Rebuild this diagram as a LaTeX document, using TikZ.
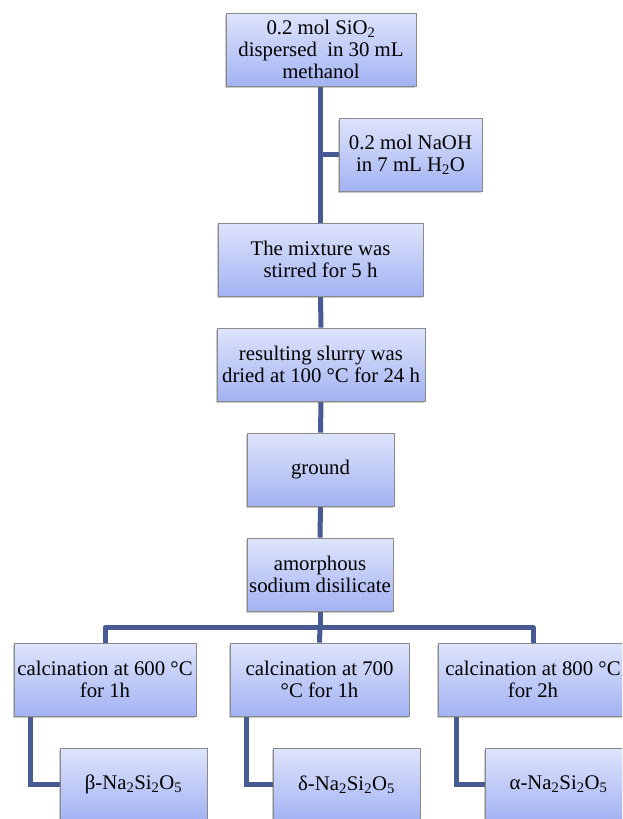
\documentclass[tikz,border=0pt]{standalone}
\usepackage{fontspec}
\setmainfont{Liberation Serif}
\usetikzlibrary{shadows,backgrounds}
\definecolor{boxtop}{HTML}{DEE4FB}
\definecolor{boxbot}{HTML}{A3B3F3}
\definecolor{boxline}{HTML}{8A8A8A}
\definecolor{conn}{HTML}{475A94}
\tikzset{
  flowbox/.style={rectangle, draw=boxline, line width=0.8pt, top color=boxtop, bottom color=boxbot,
    minimum height=73pt, inner sep=0pt, align=center, font=\fontsize{20.8}{22}\selectfont,
    drop shadow={shadow xshift=-1pt, shadow yshift=-2pt, opacity=0.35, fill=black!60}},
  conline/.style={draw=conn, line width=5pt}
}
\newcommand{\sub}[1]{\textsubscript{#1}}
\begin{document}
\begin{tikzpicture}[x=1pt,y=-1pt]
\clip (0,0) rectangle (622,819);
\node[flowbox, minimum width=190pt] (top) at (321,49.5) {0.2 mol SiO\sub{2}\\dispersed\ \ in 30 mL\\methanol};
\node[flowbox, minimum width=143pt] (naoh) at (410.5,154.5) {0.2 mol NaOH\\in 7 mL H\sub{2}O};
\node[flowbox, minimum width=205pt] (mix) at (320.5,259.5) {The mixture was\\stirred for 5 h};
\node[flowbox, minimum width=208pt] (slurry) at (321,364.5) {resulting slurry was\\dried at 100 °C for 24 h};
\node[flowbox, minimum width=147pt] (ground) at (320.5,469.5) {ground};
\node[flowbox, minimum width=146pt] (amorph) at (320,574.5) {amorphous\\sodium disilicate};
\node[flowbox, minimum width=182pt] (c600) at (105,679.5) {calcination at 600 °C\\for 1h};
\node[flowbox, minimum width=179pt] (c700) at (319.5,679.5) {calcination at 700\\°C for 1h};
\node[flowbox, minimum width=190pt] (c800) at (533,679.5) {calcination at 800 °C\\for 2h};
\node[flowbox, minimum width=147pt] (beta) at (133.5,784.5) {β-Na\sub{2}Si\sub{2}O\sub{5}};
\node[flowbox, minimum width=147pt] (delta) at (346.5,784.5) {δ-Na\sub{2}Si\sub{2}O\sub{5}};
\node[flowbox, minimum width=147pt] (alpha) at (558.5,784.5) {α-Na\sub{2}Si\sub{2}O\sub{5}};
\begin{scope}[on background layer]
\draw[conline] ([xshift=-1pt]top.south) -- ([xshift=-0.5pt]mix.north);
\draw[conline] ([xshift=-1pt]top.south |- naoh.west) -- (naoh.west);
\draw[conline] (mix.south) -- (slurry.north);
\draw[conline] (slurry.south) -- (ground.north);
\draw[conline] (ground.south) -- (amorph.north);
\coordinate (bar) at ([yshift=-16pt]amorph.south);
\draw[conline] (amorph.south) -- (bar);
\draw[conline, line join=round] (c600.north) |- (bar) -| (c800.north);
\draw[conline] (bar) -- (c700.north);
\draw[conline] ([xshift=17pt]c600.south west) |- (beta.west);
\draw[conline] ([xshift=17pt]c700.south west) |- (delta.west);
\draw[conline] ([xshift=19pt]c800.south west) |- (alpha.west);
\end{scope}
\end{tikzpicture}
\end{document}
